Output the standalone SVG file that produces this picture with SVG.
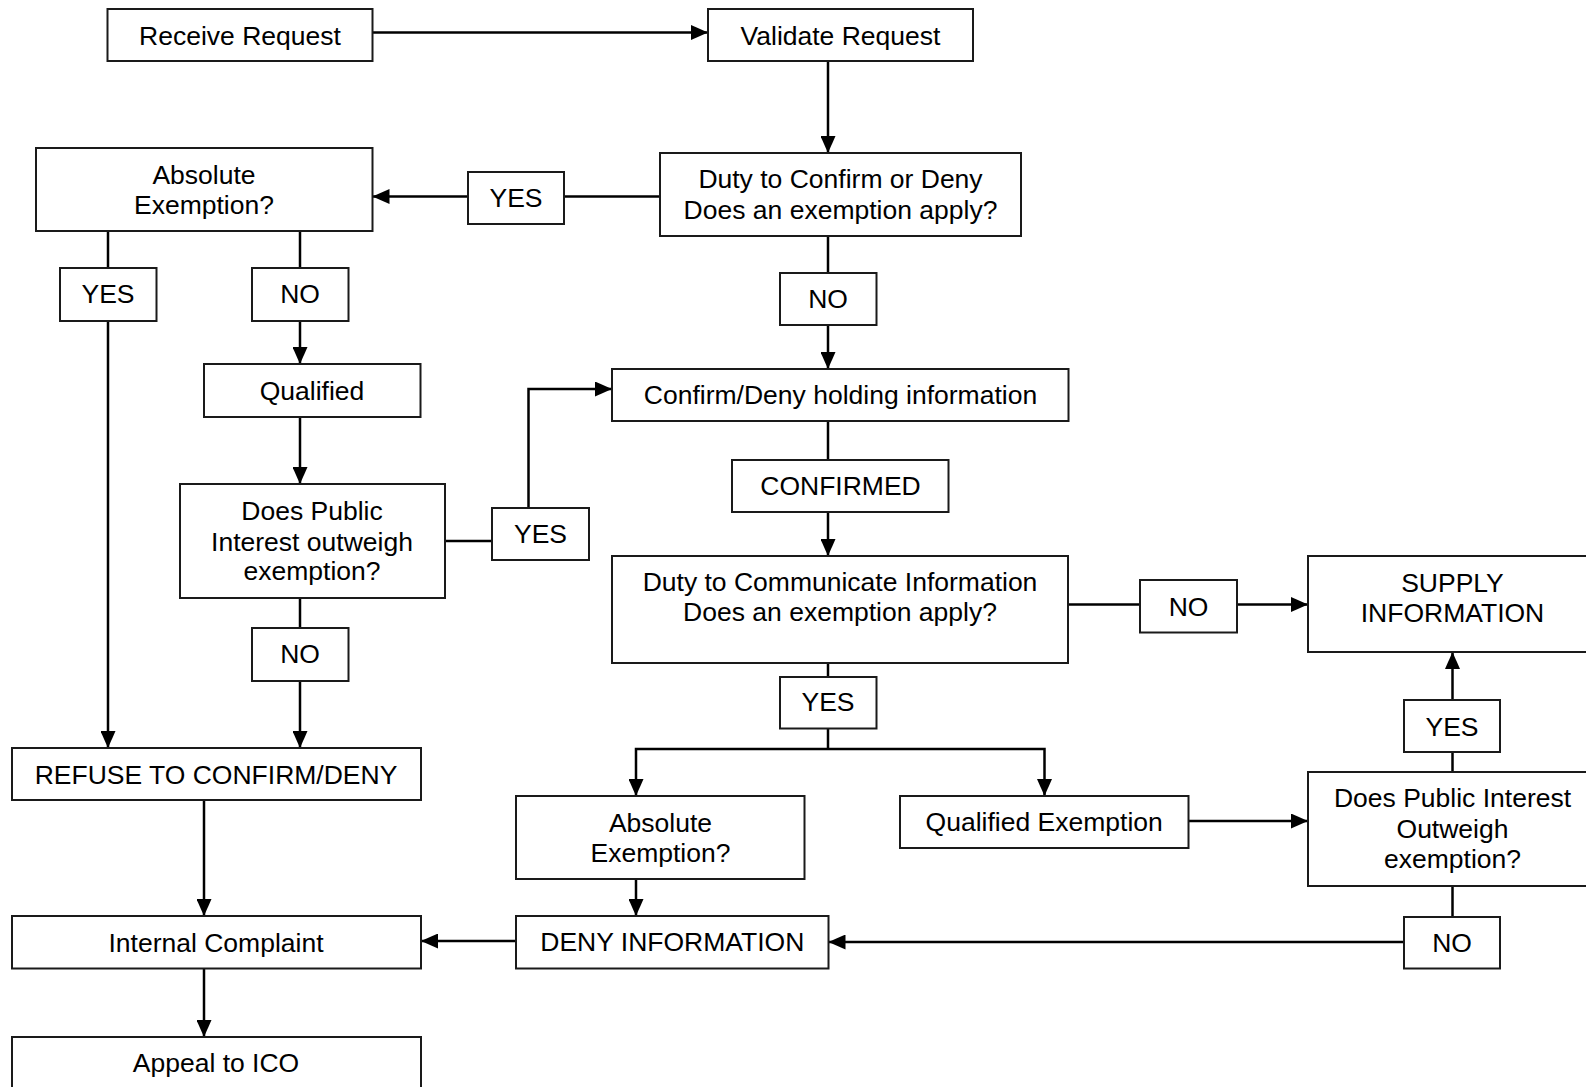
<svg xmlns="http://www.w3.org/2000/svg" width="1586" height="1087" viewBox="0 0 1586 1087">
  <style>
    .box { fill: #ffffff; stroke: #1a1a1a; stroke-width: 2; }
    .lbl { font-family: "Liberation Sans", Arial, sans-serif; font-size: 26.5px; fill: #000000; text-anchor: middle; }
    .wire { fill: none; stroke: #000000; stroke-width: 2.5; }
    .arr { marker-end: url(#head); }
  </style>
  <defs>
    <marker id="head" markerUnits="userSpaceOnUse" markerWidth="17" markerHeight="15" refX="17" refY="7.5" orient="auto">
      <path d="M0,0 L17,7.5 L0,15 Z" fill="#000000"/>
    </marker>
  </defs>
  <rect width="1586" height="1087" fill="#ffffff"/>

  <!-- connectors -->
  <g id="connectors">
    <line class="wire arr" x1="373" y1="32.5" x2="708" y2="32.5"/>
    <line class="wire arr" x1="828" y1="61" x2="828" y2="153"/>
    <line class="wire" x1="660" y1="196.5" x2="564" y2="196.5"/>
    <line class="wire arr" x1="468" y1="196.5" x2="372.5" y2="196.5"/>
    <line class="wire" x1="108" y1="231" x2="108" y2="268"/>
    <line class="wire arr" x1="108" y1="321" x2="108" y2="748"/>
    <line class="wire" x1="300" y1="231" x2="300" y2="268"/>
    <line class="wire arr" x1="300" y1="321" x2="300" y2="364"/>
    <line class="wire arr" x1="300" y1="417" x2="300" y2="484"/>
    <line class="wire" x1="445" y1="541" x2="492" y2="541"/>
    <polyline class="wire arr" points="528.5,508 528.5,389 612,389"/>
    <line class="wire" x1="300" y1="598" x2="300" y2="628"/>
    <line class="wire arr" x1="300" y1="681" x2="300" y2="748"/>
    <line class="wire" x1="828" y1="236" x2="828" y2="273"/>
    <line class="wire arr" x1="828" y1="325" x2="828" y2="369"/>
    <line class="wire" x1="828" y1="421" x2="828" y2="460"/>
    <line class="wire arr" x1="828" y1="512" x2="828" y2="556"/>
    <line class="wire" x1="1068" y1="604.5" x2="1140" y2="604.5"/>
    <line class="wire arr" x1="1237" y1="604.5" x2="1308" y2="604.5"/>
    <line class="wire" x1="828" y1="663" x2="828" y2="677"/>
    <line class="wire" x1="828" y1="728" x2="828" y2="749"/>
    <polyline class="wire arr" points="828,749 636,749 636,796"/>
    <polyline class="wire arr" points="828,749 1044.5,749 1044.5,796"/>
    <line class="wire arr" x1="1188" y1="821" x2="1308" y2="821"/>
    <line class="wire" x1="1452.5" y1="772" x2="1452.5" y2="752"/>
    <line class="wire arr" x1="1452.5" y1="700" x2="1452.5" y2="652"/>
    <line class="wire" x1="1452.5" y1="886" x2="1452.5" y2="917"/>
    <line class="wire arr" x1="1404" y1="942" x2="828.5" y2="942"/>
    <line class="wire arr" x1="636" y1="879" x2="636" y2="916"/>
    <line class="wire arr" x1="516" y1="941" x2="421" y2="941"/>
    <line class="wire arr" x1="204" y1="800" x2="204" y2="916"/>
    <line class="wire arr" x1="204" y1="969" x2="204" y2="1037"/>
  </g>

  <!-- nodes -->
  <g id="receive-request">
    <rect class="box" x="107.5" y="9" width="265" height="52"/>
    <text class="lbl" x="240" y="44.5">Receive Request</text>
  </g>
  <g id="validate-request">
    <rect class="box" x="708" y="9" width="265" height="52"/>
    <text class="lbl" x="840.5" y="44.5">Validate Request</text>
  </g>
  <g id="duty-confirm-deny">
    <rect class="box" x="660" y="153" width="361" height="83"/>
    <text class="lbl" x="840.5" y="187.5">Duty to Confirm or Deny</text>
    <text class="lbl" x="840.5" y="218.5">Does an exemption apply?</text>
  </g>
  <g id="label-yes-1">
    <rect class="box" x="468" y="172" width="96" height="52"/>
    <text class="lbl" x="516" y="206.5">YES</text>
  </g>
  <g id="absolute-exemption-1">
    <rect class="box" x="36" y="148" width="336.5" height="83"/>
    <text class="lbl" x="204" y="184">Absolute</text>
    <text class="lbl" x="204" y="213.5">Exemption?</text>
  </g>
  <g id="label-yes-2">
    <rect class="box" x="60" y="268" width="96.5" height="53"/>
    <text class="lbl" x="108" y="302.5">YES</text>
  </g>
  <g id="label-no-1">
    <rect class="box" x="252" y="268" width="96.5" height="53"/>
    <text class="lbl" x="300" y="302.5">NO</text>
  </g>
  <g id="label-no-2">
    <rect class="box" x="780" y="273" width="96.5" height="52"/>
    <text class="lbl" x="828" y="308">NO</text>
  </g>
  <g id="qualified">
    <rect class="box" x="204" y="364" width="216.5" height="53"/>
    <text class="lbl" x="312" y="400">Qualified</text>
  </g>
  <g id="public-interest-1">
    <rect class="box" x="180" y="484" width="265" height="114"/>
    <text class="lbl" x="312" y="520">Does Public</text>
    <text class="lbl" x="312" y="550.5">Interest outweigh</text>
    <text class="lbl" x="312" y="580">exemption?</text>
  </g>
  <g id="label-yes-3">
    <rect class="box" x="492" y="508" width="97" height="52"/>
    <text class="lbl" x="540.5" y="542.5">YES</text>
  </g>
  <g id="label-no-3">
    <rect class="box" x="252" y="628" width="96.5" height="53"/>
    <text class="lbl" x="300" y="663">NO</text>
  </g>
  <g id="confirm-deny-holding">
    <rect class="box" x="612" y="369" width="456.5" height="52"/>
    <text class="lbl" x="840.5" y="404">Confirm/Deny holding information</text>
  </g>
  <g id="label-confirmed">
    <rect class="box" x="732" y="460" width="216.5" height="52"/>
    <text class="lbl" x="840.5" y="494.5">CONFIRMED</text>
  </g>
  <g id="duty-communicate">
    <rect class="box" x="612" y="556" width="456" height="107"/>
    <text class="lbl" x="840" y="590.5">Duty to Communicate Information</text>
    <text class="lbl" x="840" y="621">Does an exemption apply?</text>
  </g>
  <g id="label-no-4">
    <rect class="box" x="1140" y="580" width="97" height="52.5"/>
    <text class="lbl" x="1188.5" y="615.5">NO</text>
  </g>
  <g id="supply-information">
    <rect class="box" x="1308" y="556" width="289" height="96"/>
    <text class="lbl" x="1452.5" y="591.5">SUPPLY</text>
    <text class="lbl" x="1452.5" y="621.5">INFORMATION</text>
  </g>
  <g id="label-yes-4">
    <rect class="box" x="780" y="677" width="96.5" height="51.5"/>
    <text class="lbl" x="828" y="710.5">YES</text>
  </g>
  <g id="label-yes-5">
    <rect class="box" x="1404" y="700" width="96" height="52"/>
    <text class="lbl" x="1452" y="735.5">YES</text>
  </g>
  <g id="absolute-exemption-2">
    <rect class="box" x="516" y="796" width="288.5" height="83"/>
    <text class="lbl" x="660.5" y="831.5">Absolute</text>
    <text class="lbl" x="660.5" y="861.5">Exemption?</text>
  </g>
  <g id="qualified-exemption">
    <rect class="box" x="900" y="796" width="288.5" height="52"/>
    <text class="lbl" x="1044.2" y="831">Qualified Exemption</text>
  </g>
  <g id="public-interest-2">
    <rect class="box" x="1308" y="772" width="289" height="114"/>
    <text class="lbl" x="1452.5" y="807">Does Public Interest</text>
    <text class="lbl" x="1452.5" y="838">Outweigh</text>
    <text class="lbl" x="1452.5" y="868">exemption?</text>
  </g>
  <g id="label-no-5">
    <rect class="box" x="1404" y="917" width="96" height="51.5"/>
    <text class="lbl" x="1452" y="951.5">NO</text>
  </g>
  <g id="deny-information">
    <rect class="box" x="516" y="916" width="312.5" height="52.5"/>
    <text class="lbl" x="672.3" y="951">DENY INFORMATION</text>
  </g>
  <g id="refuse-confirm-deny">
    <rect class="box" x="12" y="748" width="409" height="52"/>
    <text class="lbl" x="216" y="783.5">REFUSE TO CONFIRM/DENY</text>
  </g>
  <g id="internal-complaint">
    <rect class="box" x="12" y="916" width="409" height="52.5"/>
    <text class="lbl" x="216" y="951.5">Internal Complaint</text>
  </g>
  <g id="appeal-ico">
    <rect class="box" x="12" y="1037" width="409" height="80"/>
    <text class="lbl" x="216" y="1072">Appeal to ICO</text>
  </g>
</svg>
